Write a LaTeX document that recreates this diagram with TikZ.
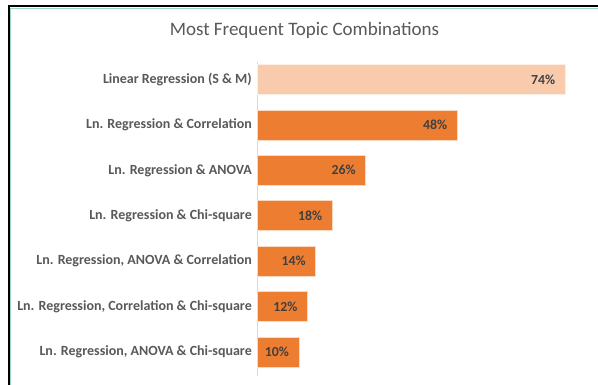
\documentclass[tikz,border=0pt]{standalone}
\usepackage{fontspec}
\setmainfont{Carlito}
\definecolor{barmain}{HTML}{ED7D31}
\definecolor{barlight}{HTML}{F8CBAD}
\definecolor{labelgrey}{HTML}{595959}
\definecolor{valuegrey}{HTML}{404040}
\definecolor{axisgrey}{HTML}{D9D9D9}
\definecolor{edgegreen}{HTML}{9ED8C0}
\begin{document}
\begin{tikzpicture}[x=1pt,y=-1pt,
  bar/.style={rectangle, inner sep=0pt, minimum height=30pt, draw=white!70!#1, line width=0.6pt, fill=#1, anchor=west},
  catlabel/.style={anchor=east, inner sep=0pt, text=labelgrey, font=\fontsize{14}{16}\selectfont\bfseries},
  valuelabel/.style={anchor=east, inner sep=0pt, text=valuegrey, font=\fontsize{13.8}{16}\selectfont\bfseries},
  axisline/.style={draw=axisgrey, line width=1pt},
  frameline/.style={draw=black, line width=2pt}]
  \useasboundingbox (0,0) rectangle (598,385);
  \fill[white] (0,0) rectangle (598,385);
  % window frame along the top and left edges
  \draw[frameline] (8.5,385) -- (8.5,6.5) -- (598,6.5);
  \draw[edgegreen, line width=0.8pt] (10.2,385) -- (10.2,8.2) -- (598,8.2);
  % title
  \node[text=labelgrey, font=\fontsize{19}{22}\selectfont] (title) at (304.5,30) {Most Frequent Topic Combinations};
  % category axis
  \coordinate (axtop) at (257,62);
  \coordinate (axbot) at (257,376);
  \draw[axisline] (axtop) -- (axbot);
  % bars, category names and values
  \foreach \i/\v/\c/\t in {
    1/74/barlight/{Linear Regression (S \& M)},
    2/48/barmain/{Ln. Regression \& Correlation},
    3/26/barmain/{Ln. Regression \& ANOVA},
    4/18/barmain/{Ln. Regression \& Chi-square},
    5/14/barmain/{Ln. Regression, ANOVA \& Correlation},
    6/12/barmain/{Ln. Regression, Correlation \& Chi-square},
    7/10/barmain/{Ln. Regression, ANOVA \& Chi-square}} {
    \node[bar=\c, minimum width={\v*4.16pt}] (bar\i) at (257,{79.5+45.4*(\i-1)}) {};
    \node[catlabel] (cat\i) at ([xshift=-5pt]bar\i.west) {\t};
    \node[valuelabel] (val\i) at ([xshift=-10pt]bar\i.east) {\v\%};
  }
\end{tikzpicture}
\end{document}
